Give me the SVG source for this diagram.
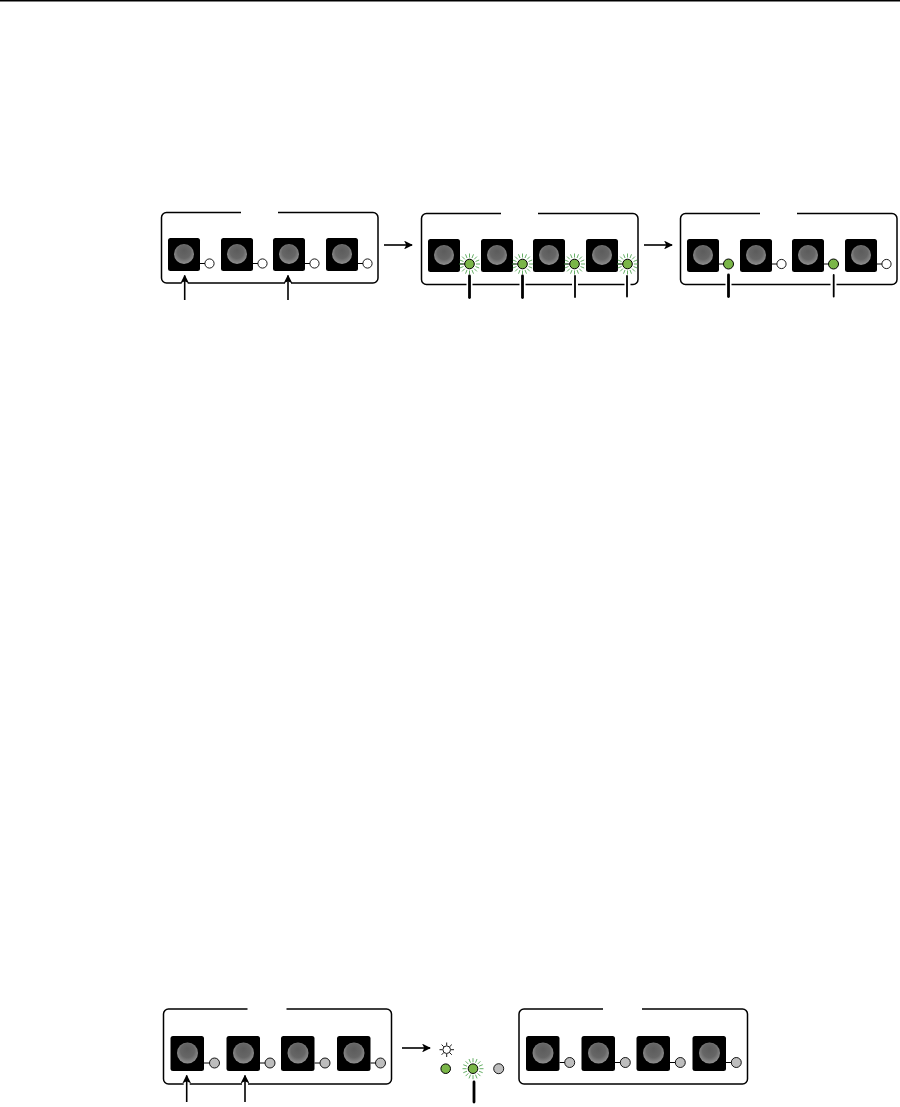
<svg xmlns="http://www.w3.org/2000/svg" xmlns:xlink="http://www.w3.org/1999/xlink" width="900" height="1107" viewBox="0 0 900 1107">
<style>
.panel{fill:#fff;stroke:#000;stroke-width:1.5}
.gap{stroke:#fff;stroke-width:4;fill:none}
.halo{stroke:#fff;stroke-width:6;fill:none}
.arrow{stroke:#000;stroke-width:1.6;fill:none;marker-end:url(#ah)}
.thick{stroke:#000;stroke-width:2.8;fill:none;stroke-linecap:round}
.thin{stroke:#000;stroke-width:1.8;fill:none;stroke-linecap:round}
.tie{stroke:#000;stroke-width:1;fill:none}
.off{fill:#fff;stroke:#000;stroke-width:.9}
.on{fill:#7ab648;stroke:#000;stroke-width:1}
.dim{fill:#bdbdbd;stroke:#000;stroke-width:.9}
.ray{stroke:#3f9b3f;stroke-width:.8;fill:none}
.sun{stroke:#000;stroke-width:.9;fill:none}
</style>
<defs>
<marker id="ah" viewBox="0 0 10 10" refX="9" refY="5" markerWidth="5.5" markerHeight="5.5" orient="auto"><path d="M0 0L10 5L0 10L2.5 5Z" fill="#000"/></marker>
<radialGradient id="bulb" cx="50%" cy="45%" r="55%" fx="50%" fy="30%">
<stop offset="0" stop-color="#5c5c5c"/><stop offset=".6" stop-color="#666"/><stop offset="1" stop-color="#909090"/>
</radialGradient>
<g id="btn"><rect width="32" height="33" rx="2.5" fill="#000"/><circle cx="16" cy="16" r="10" fill="url(#bulb)"/></g>
<g id="btnL"><rect width="33.5" height="35" rx="2.5" fill="#000"/><circle cx="17" cy="17" r="10.5" fill="url(#bulb)"/></g>
<path id="rays" class="ray" d="M0-6.5V-10.5M0 6.5V10.5M-6.5 0H-10.5M6.5 0H10.5M4.6-4.6L7.4-7.4M-4.6-4.6L-7.4-7.4M4.6 4.6L7.4 7.4M-4.6 4.6L-7.4 7.4M2.5-6L4-9.7M-2.5-6L-4-9.7M2.5 6L4 9.7M-2.5 6L-4 9.7M6-2.5L9.7-4M-6-2.5L-9.7-4M6 2.5L9.7 4M-6 2.5L-9.7 4"/>
</defs>
<rect width="900" height="1107" fill="#fff"/>
<rect id="top-rule" x="0" y="0" width="900" height="1.5" fill="#000"/>

<g id="panel-a">
<rect class="panel" x="161.500" y="212.500" width="216.500" height="70.500" rx="5"/>
<path class="gap" d="M241 212.500H278"/>
<use href="#btn" x="168" y="238"/><use href="#btn" x="221" y="238"/><use href="#btn" x="273" y="238"/><use href="#btn" x="326" y="238"/>
<path class="tie" d="M200 263.500H205M253 263.500H258M305 263.500H310M358 263.500H363"/>
<circle class="off" cx="209.500" cy="263.500" r="4.600"/><circle class="off" cx="262.500" cy="263.500" r="4.600"/><circle class="off" cx="314.500" cy="263.500" r="4.600"/><circle class="off" cx="367.500" cy="263.500" r="4.600"/>
</g>

<g id="panel-b">
<rect class="panel" x="421.500" y="213.500" width="216.500" height="71" rx="5"/>
<path class="gap" d="M501 213.500H538"/>
<use href="#btn" x="428" y="239"/><use href="#btn" x="481" y="239"/><use href="#btn" x="533" y="239"/><use href="#btn" x="586" y="239"/>
<path class="tie" d="M460 264H465M513 264H518M565 264H570M618 264H623"/>
<use href="#rays" x="469.500" y="264"/><use href="#rays" x="522.500" y="264"/><use href="#rays" x="574.500" y="264"/><use href="#rays" x="627.500" y="264"/>
<circle class="on" cx="469.500" cy="264" r="4.800"/><circle class="on" cx="522.500" cy="264" r="4.800"/><circle class="on" cx="574.500" cy="264" r="4.800"/><circle class="on" cx="627.500" cy="264" r="4.800"/>
</g>

<g id="panel-c">
<rect class="panel" x="680.500" y="213.500" width="216.500" height="71" rx="5"/>
<path class="gap" d="M760 213.500H797"/>
<use href="#btn" x="687" y="239"/><use href="#btn" x="740" y="239"/><use href="#btn" x="792" y="239"/><use href="#btn" x="845" y="239"/>
<path class="tie" d="M719 264H724M772 264H777M824 264H829M877 264H882"/>
<circle class="on" cx="728.500" cy="264" r="5"/><circle class="off" cx="781.500" cy="264" r="4.600"/><circle class="on" cx="833.500" cy="264" r="5"/><circle class="off" cx="886.500" cy="264" r="4.600"/>
</g>

<g id="panel-d">
<rect class="panel" x="163.500" y="1009" width="228" height="75" rx="5"/>
<path class="gap" d="M247.500 1009H286.500"/>
<use href="#btnL" x="170.500" y="1036"/><use href="#btnL" x="226.500" y="1036"/><use href="#btnL" x="281" y="1036"/><use href="#btnL" x="337" y="1036"/>
<path class="tie" d="M204 1063H210M260 1063H265M314.500 1063H320M370.500 1063H376"/>
<circle class="dim" cx="214.500" cy="1063" r="5"/><circle class="dim" cx="270" cy="1063" r="5"/><circle class="dim" cx="325" cy="1063" r="5"/><circle class="dim" cx="380.500" cy="1063" r="5"/>
</g>

<g id="legend">
<g id="sun"><path class="sun" d="M446.700 1042.500V1045.500M446.700 1054V1057M439.500 1049.700H442.500M451 1049.700H454M441.600 1044.600L443.700 1046.700M449.700 1052.700L451.800 1054.800M451.800 1044.600L449.700 1046.700M443.700 1052.700L441.600 1054.800"/><circle class="sun" cx="446.700" cy="1049.700" r="3.800" fill="#fff"/></g>
<circle class="on" cx="445.700" cy="1068.700" r="4.800"/>
<use href="#rays" x="473" y="1068.700"/><circle class="on" cx="473" cy="1068.700" r="4.800"/>
<circle class="dim" cx="498.700" cy="1068.700" r="5"/>
</g>

<g id="panel-e">
<rect class="panel" x="519" y="1009" width="228.500" height="75" rx="5"/>
<path class="gap" d="M603 1009H642"/>
<use href="#btnL" x="526" y="1036"/><use href="#btnL" x="581.500" y="1036"/><use href="#btnL" x="636.500" y="1036"/><use href="#btnL" x="692.500" y="1036"/>
<path class="tie" d="M559.500 1062.500H565M615 1062.500H621M670 1062.500H676M726 1062.500H732"/>
<circle class="dim" cx="569.700" cy="1062.500" r="5"/><circle class="dim" cx="625.300" cy="1062.500" r="5"/><circle class="dim" cx="680.300" cy="1062.500" r="5"/><circle class="dim" cx="736.300" cy="1062.500" r="5"/>
</g>

<g id="connectors">
<path class="halo" d="M184.700 280V286M288 280V286M469.500 280V288M522.500 280V288M575 280V288M627.500 280V288M728.500 280V288M833.500 280V288M186.700 1080V1087M245 1080V1087"/>
<path class="arrow" d="M184.700 300V275.500"/><path class="arrow" d="M288 300V275.500"/>
<path class="arrow" d="M384 245H412"/><path class="arrow" d="M644 245H672"/>
<path class="thick" d="M469.500 276V297.500"/><path class="thick" d="M522.500 276V297.500"/>
<path class="thin" d="M575 276V297"/><path class="thin" d="M627 276V296.500"/>
<path class="thick" d="M728.500 275V296.500"/><path class="thin" d="M833.700 275V296.500"/>
<path class="arrow" d="M186.700 1102V1075.500"/><path class="arrow" d="M245 1102V1075.500"/>
<path class="arrow" d="M402 1048H430"/>
<path class="thick" d="M474 1082V1102"/>
</g>
</svg>
